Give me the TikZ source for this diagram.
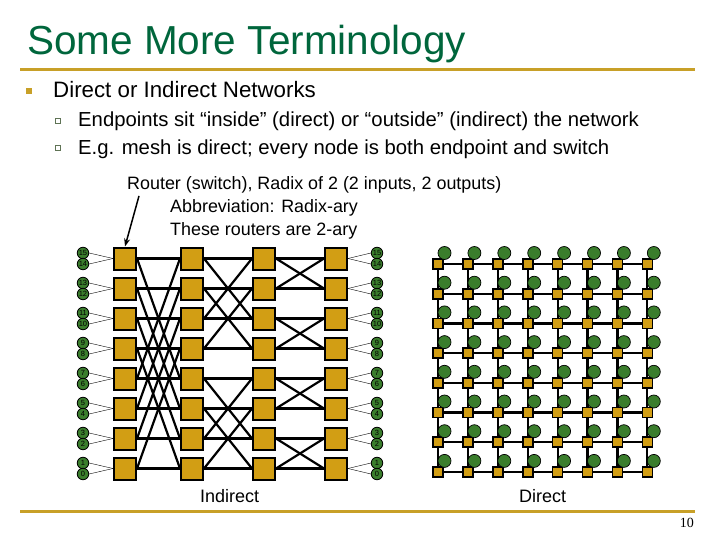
\documentclass[tikz,border=0pt]{standalone}
\usepackage{fontspec}
\setmainfont{Liberation Sans}
\newfontfamily\pgnumfont{Liberation Serif}
\usetikzlibrary{arrows.meta}
\definecolor{ttlgreen}{RGB}{0,102,60}
\definecolor{rulegold}{RGB}{200,160,40}
\definecolor{swgold}{RGB}{210,158,20}
\definecolor{epgreen}{RGB}{58,125,44}
\definecolor{subbul}{RGB}{95,115,85}
\tikzset{
  router/.style={draw,line width=2pt,fill=swgold,minimum size=22pt,inner sep=0pt},
  endpt/.style={circle,draw,line width=0.8pt,fill=epgreen,minimum size=11.5pt,inner sep=0pt,font=\fontsize{7.5}{7.5}\selectfont},
  msw/.style={draw,line width=1.6pt,fill=swgold,minimum size=10pt,inner sep=0pt},
  mnode/.style={circle,draw,line width=0.7pt,fill=epgreen,minimum size=13pt,inner sep=0pt},
  link/.style={line width=2.2pt},
  txt/.style={anchor=base west,inner sep=0pt},
}
\begin{document}
\begin{tikzpicture}[x=1pt,y=-1pt]
    \useasboundingbox (0,0) rectangle (720,540);
    \node[txt,text=ttlgreen,font=\fontsize{40.5}{40.5}\selectfont] (title) at (27,55) {Some More Terminology};
    \draw[rulegold,line width=3pt] (20,70) -- (695,70);
    \fill[rulegold] (26,88) rectangle (32,94);
    \node[txt,font=\fontsize{22.3}{22.3}\selectfont] (b1) at (53,98) {Direct or Indirect Networks};
    \draw[subbul,line width=0.8pt] (55,118) rectangle (60,123);
    \draw[subbul,line width=0.8pt] (55,145) rectangle (60,150);
    \node[txt,font=\fontsize{20.3}{20.3}\selectfont] (b2) at (78,127) {Endpoints sit “inside” (direct) or “outside” (indirect) the network};
    \node[txt,font=\fontsize{20.3}{20.3}\selectfont] (b3) at (78,155) {E.g. mesh is direct; every node is both endpoint and switch};
    \node[txt,font=\fontsize{17.9}{17.9}\selectfont] (cap1) at (127,190) {Router (switch), Radix of 2 (2 inputs, 2 outputs)};
    \node[txt,font=\fontsize{17.9}{17.9}\selectfont] (cap2) at (170,213) {Abbreviation: Radix-ary};
    \node[txt,font=\fontsize{17.9}{17.9}\selectfont] (cap3) at (170,236) {These routers are 2-ary};
    % butterfly
    \foreach \c/\x in {1/125,2/192,3/264,4/336} \foreach \r in {0,...,7}
        \node[router] (r-\c-\r) at (\x,{258.5+30*\r}) {};
    \foreach \r in {0,...,7} {
        \pgfmathtruncatemacro\hi{15-2*\r} \pgfmathtruncatemacro\lo{14-2*\r}
        \node[endpt] (li-\r) at (83,{253+30*\r}) {\hi};
        \node[endpt] (lo-\r) at (83,{264+30*\r}) {\lo};
        \node[endpt] (ri-\r) at (377,{253+30*\r}) {\hi};
        \node[endpt] (ro-\r) at (377,{264+30*\r}) {\lo};
        \draw (li-\r.east) -- (r-1-\r.west); \draw (lo-\r.east) -- (r-1-\r.west);
        \draw (r-4-\r.east) -- (ri-\r.west); \draw (r-4-\r.east) -- (ro-\r.west);
    }
    \foreach \c/\n/\d in {1/2/4,2/3/2,3/4/1} \foreach \r in {0,...,7} {
        \pgfmathtruncatemacro\p{\r+\d*(1-2*mod(floor(\r/\d),2))}
        \draw[link] (r-\c-\r.east) -- (r-\n-\r.west);
        \draw[link] (r-\c-\r.east) -- (r-\n-\p.west);
    }
    \draw[-{Stealth[length=8pt,width=6pt]},line width=1.5pt] ([xshift=12pt,yshift=-2pt]cap1.south west) -- (r-1-0.north);
    % mesh
    \foreach \i in {0,...,7} \foreach \j in {0,...,7}
        \node[msw] (m-\i-\j) at ({438+29.9*\i},{264+29.7*\j}) {};
    \foreach \i in {0,...,7} \foreach \j in {0,...,7} {
        \pgfmathtruncatemacro\ni{\i+1} \pgfmathtruncatemacro\nj{\j+1}
        \ifnum\i<7 \draw[link] (m-\i-\j) -- (m-\ni-\j); \fi
        \ifnum\j<7 \draw[link] (m-\i-\j) -- (m-\i-\nj); \fi
    }
    \foreach \i in {0,...,7} \foreach \j in {0,...,7}
        \node[mnode] (e-\i-\j) at ({444.5+29.9*\i},{253+29.7*\j}) {};
    \node[txt,font=\fontsize{18}{18}\selectfont] (lbl1) at (200,502) {Indirect};
    \node[txt,font=\fontsize{18}{18}\selectfont] (lbl2) at (519,502) {Direct};
    \draw[rulegold,line width=3pt] (20,511) -- (695,511);
    \node[anchor=base east,inner sep=0pt,font=\pgnumfont\fontsize{14}{14}\selectfont] (pg) at (694,527) {10};
\end{tikzpicture}
\end{document}
